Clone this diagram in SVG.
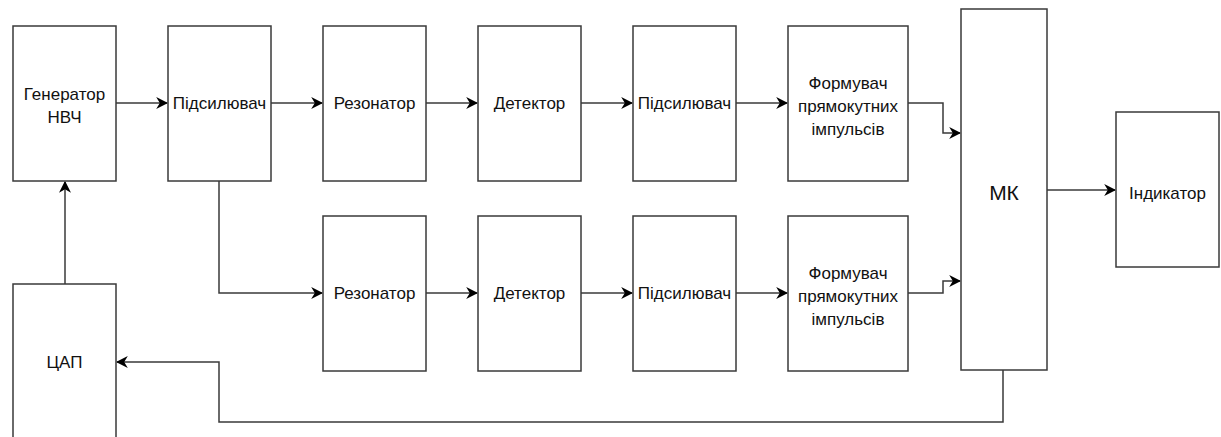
<svg xmlns="http://www.w3.org/2000/svg" width="1221" height="437" viewBox="0 0 1221 437">
<style>
.b{fill:#fff;stroke:#3a3a3a;stroke-width:1.5}
.t{font-family:"Liberation Sans",Arial,sans-serif;font-size:17px;fill:#111;text-anchor:middle}
.c{fill:none;stroke:#3a3a3a;stroke-width:1.5;marker-end:url(#a)}
</style>
<defs>
<marker id="a" viewBox="0 0 10 10" refX="9" refY="5" markerWidth="12" markerHeight="12" markerUnits="userSpaceOnUse" orient="auto">
<path d="M0,0 L10,5 L0,10 L3,5 Z" fill="#000"/>
</marker>
</defs>
<rect width="1221" height="437" fill="#fff"/>
<g id="connectors">
<path class="c" d="M116,103 H167"/>
<path class="c" d="M271,103 H322"/>
<path class="c" d="M426,103 H477"/>
<path class="c" d="M581,103 H632"/>
<path class="c" d="M736,103 H787"/>
<path class="c" d="M908,103 H943 V133 H960"/>
<path class="c" d="M219,181 V293 H322"/>
<path class="c" d="M426,293 H477"/>
<path class="c" d="M581,293 H632"/>
<path class="c" d="M736,293 H787"/>
<path class="c" d="M908,293 H943 V281 H960"/>
<path class="c" d="M1047,190 H1115"/>
<path class="c" d="M1003,370 V422 H219 V362 H117"/>
<path class="c" d="M65,284 V182"/>
</g>
<g id="gen"><rect class="b" x="13" y="26" width="103" height="155"/><text class="t" x="64.5" y="100">Генератор</text><text class="t" x="64.5" y="123">НВЧ</text></g>
<g id="amp1"><rect class="b" x="168" y="26" width="103" height="155"/><text class="t" x="219.5" y="109">Підсилювач</text></g>
<g id="res1"><rect class="b" x="323" y="26" width="103" height="155"/><text class="t" x="374.5" y="109">Резонатор</text></g>
<g id="det1"><rect class="b" x="478" y="26" width="103" height="155"/><text class="t" x="529.5" y="109">Детектор</text></g>
<g id="amp2"><rect class="b" x="633" y="26" width="103" height="155"/><text class="t" x="684.5" y="109">Підсилювач</text></g>
<g id="form1"><rect class="b" x="788" y="26" width="120" height="155"/><text class="t" x="848" y="89">Формувач</text><text class="t" x="848" y="112">прямокутних</text><text class="t" x="848" y="135">імпульсів</text></g>
<g id="res2"><rect class="b" x="323" y="216" width="103" height="155"/><text class="t" x="374.5" y="299">Резонатор</text></g>
<g id="det2"><rect class="b" x="478" y="216" width="103" height="155"/><text class="t" x="529.5" y="299">Детектор</text></g>
<g id="amp3"><rect class="b" x="633" y="216" width="103" height="155"/><text class="t" x="684.5" y="299">Підсилювач</text></g>
<g id="form2"><rect class="b" x="788" y="216" width="120" height="155"/><text class="t" x="848" y="279">Формувач</text><text class="t" x="848" y="302">прямокутних</text><text class="t" x="848" y="325">імпульсів</text></g>
<g id="mk"><rect class="b" x="961" y="9" width="86" height="361"/><text class="t" x="1004" y="200" style="font-size:21px">МК</text></g>
<g id="ind"><rect class="b" x="1116" y="112" width="103" height="155"/><text class="t" x="1167.5" y="199">Індикатор</text></g>
<g id="dac"><rect class="b" x="13" y="284" width="103" height="170"/><text class="t" x="64.5" y="368">ЦАП</text></g>
</svg>
